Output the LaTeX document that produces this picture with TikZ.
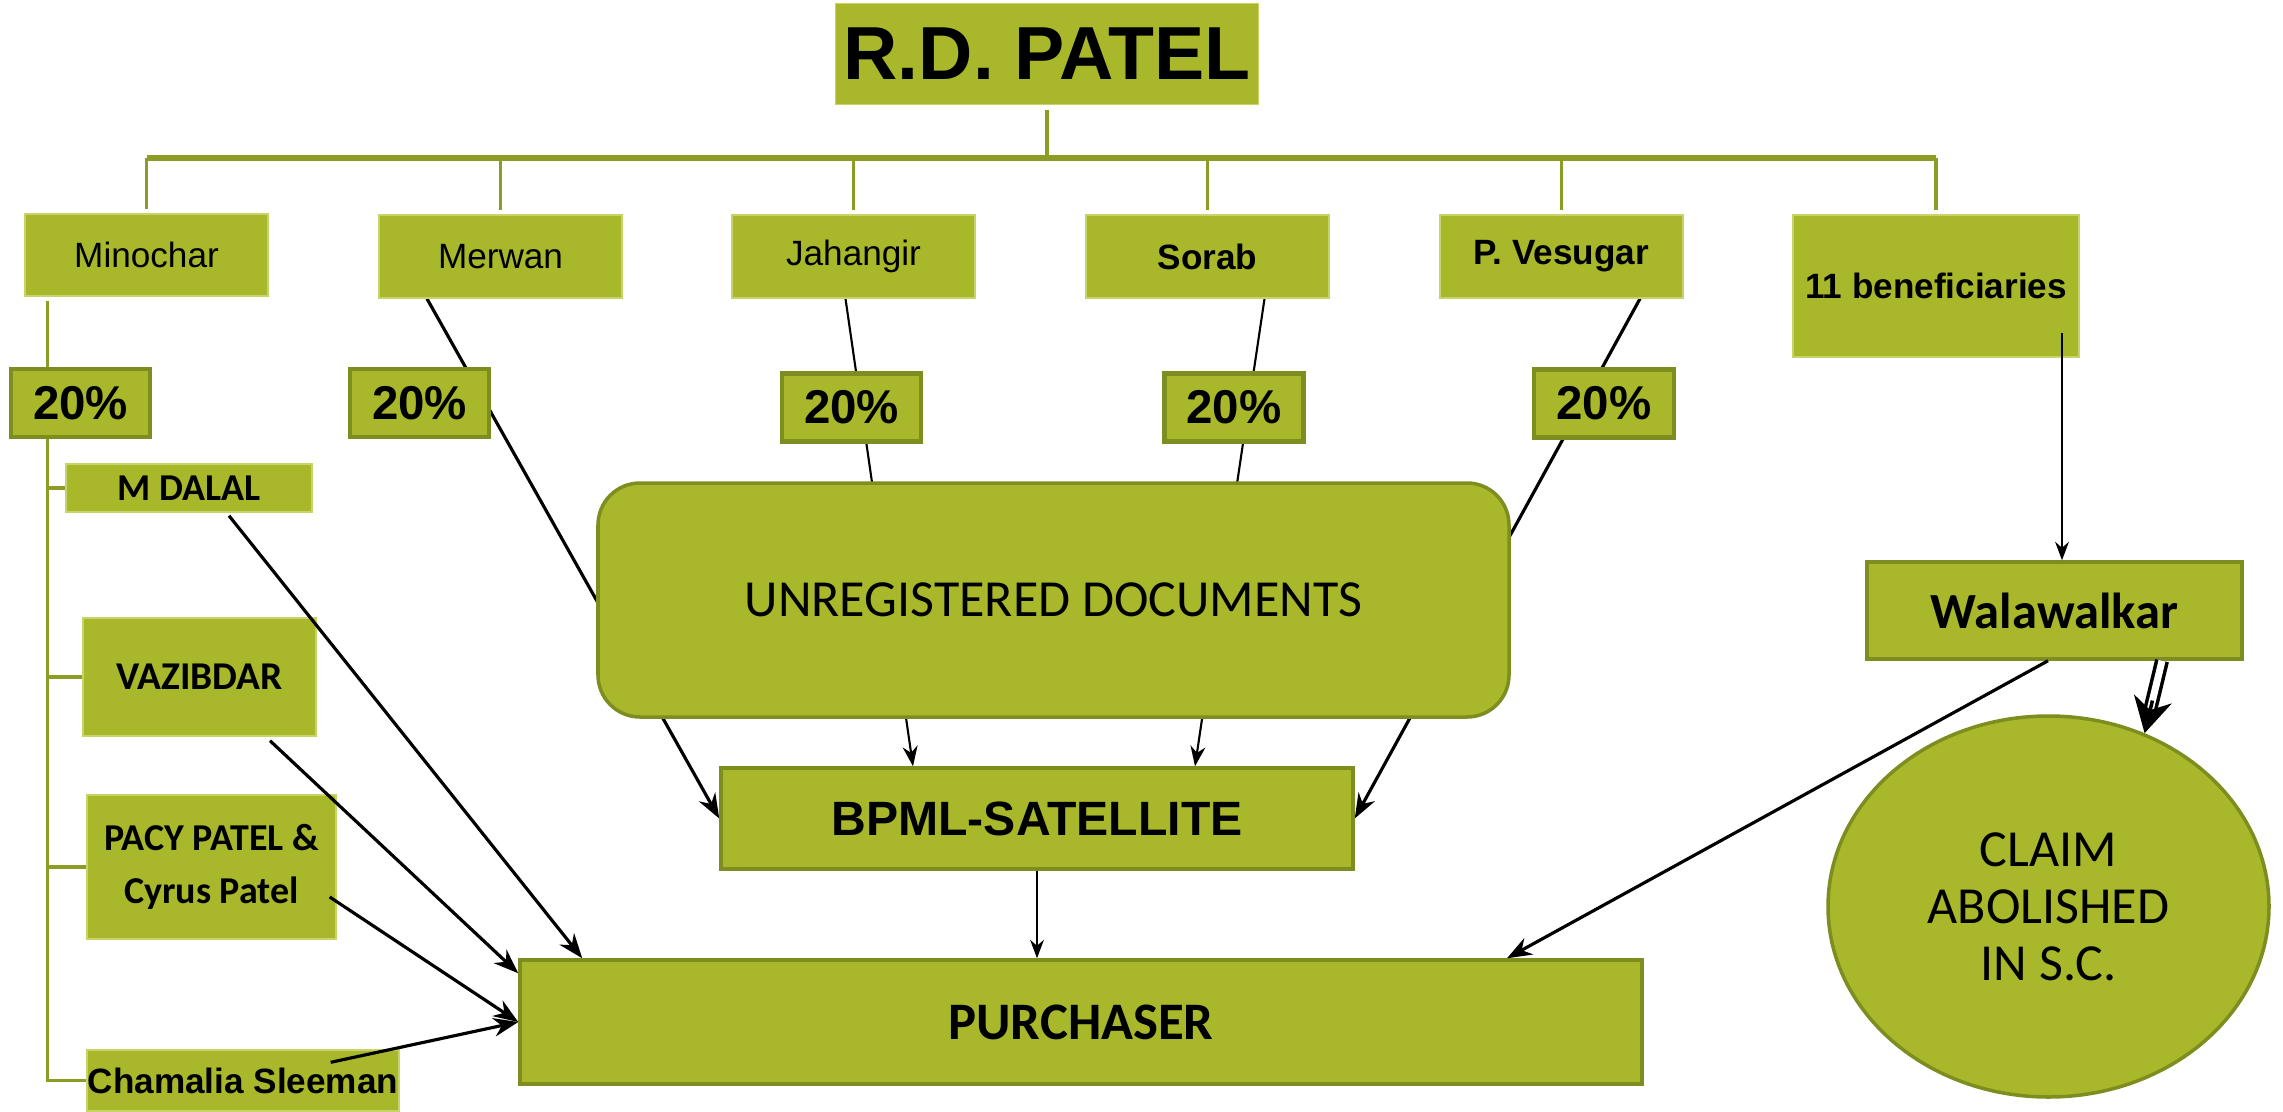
\documentclass[tikz,border=0pt]{standalone}
\usepackage{fontspec}
\setmainfont{Liberation Sans}
\newfontfamily\cali{Carlito}
\usepackage{tikz}
\usetikzlibrary{arrows.meta,positioning,shapes.geometric,backgrounds,calc}

\definecolor{leaf}{HTML}{A8B82A}
\definecolor{leafdark}{HTML}{7E8D1F}
\definecolor{leaflight}{HTML}{C8D46A}
\definecolor{stemcol}{HTML}{8C9C25}

\begin{document}
\begin{tikzpicture}[>=Stealth,
  heir/.style={fill=leaf, draw=leaflight, line width=0.4pt, inner sep=0pt},
  share/.style={fill=leaf, draw=leafdark, line width=1.3pt, inner sep=0pt,
    minimum width=1.39cm, minimum height=0.68cm, font=\bfseries\fontsize{13.5}{15}\selectfont},
  block/.style={fill=leaf, draw=leafdark, line width=1pt, inner sep=0pt},
  stem/.style={draw=stemcol, line width=1pt},
  link/.style={->, line width=0.9pt}]
  \useasboundingbox (0,0) rectangle (22.83,-11.11);

  % Root
  \node[heir, minimum width=4.23cm, minimum height=1.01cm,
    font=\bfseries\fontsize{21.4}{24}\selectfont] (patel) at (10.47,-0.54) {R.D. PATEL};

  % Heirs
  \node[heir, minimum width=2.43cm, minimum height=0.82cm, font=\fontsize{10}{12}\selectfont] (minochar) at (1.465,-2.55) {Minochar};
  \node[heir, minimum width=2.43cm, minimum height=0.83cm, font=\fontsize{10}{12}\selectfont] (merwan) at (5.005,-2.565) {Merwan};
  \node[heir, minimum width=2.43cm, minimum height=0.83cm, font=\fontsize{10}{12}\selectfont] (jahangir) at (8.535,-2.565) {Jahangir};
  \node[heir, minimum width=2.43cm, minimum height=0.83cm, font=\bfseries\fontsize{10}{12}\selectfont] (sorab) at (12.075,-2.565) {Sorab};
  \node[heir, minimum width=2.43cm, minimum height=0.83cm, font=\bfseries\fontsize{10}{12}\selectfont] (vesugar) at (15.615,-2.565) {P. Vesugar};
  \node[heir, minimum width=2.86cm, minimum height=1.42cm, font=\bfseries\fontsize{10}{12}\selectfont] (benef) at (19.36,-2.86) {11 beneficiaries};

  % Shares
  \node[share] (p1) at (0.805,-4.03) {20\%};
  \node[share] (p2) at (4.195,-4.03) {20\%};
  \node[share] (p3) at (8.515,-4.075) {20\%};
  \node[share] (p4) at (12.34,-4.075) {20\%};
  \node[share, minimum width=1.4cm] (p5) at (16.04,-4.035) {20\%};

  % Minochar's side
  \node[heir, minimum width=2.46cm, minimum height=0.48cm, font=\cali\bfseries\fontsize{10.8}{12}\selectfont] (dalal) at (1.89,-4.88) {M DALAL};
  \node[heir, minimum width=2.33cm, minimum height=1.18cm, font=\cali\bfseries\fontsize{11.2}{12}\selectfont] (vazib) at (1.995,-6.77) {VAZIBDAR};
  \node[heir, minimum width=2.49cm, minimum height=1.44cm, align=center,
    font=\cali\bfseries\fontsize{10.8}{15}\selectfont] (pacy) at (2.115,-8.67) {PACY PATEL \&\\Cyrus Patel};
  \node[heir, minimum width=3.12cm, minimum height=0.61cm, font=\bfseries\fontsize{10}{12}\selectfont] (chamalia) at (2.43,-10.805) {Chamalia Sleeman};

  % Middle blocks
  \node[block, rounded corners=0.42cm, minimum width=9.11cm, minimum height=2.34cm,
    font=\cali\fontsize{14.8}{17}\selectfont] (unreg) at (10.535,-6.0) {UNREGISTERED DOCUMENTS};
  \node[block, minimum width=6.32cm, minimum height=1.01cm, font=\bfseries\fontsize{13.7}{15}\selectfont] (bpml) at (10.37,-8.185) {BPML-SATELLITE};
  \node[block, minimum width=11.22cm, minimum height=1.24cm, font=\cali\bfseries\fontsize{15}{17}\selectfont] (purch) at (10.81,-10.22) {PURCHASER};

  % Right side
  \node[block, minimum width=3.75cm, minimum height=0.97cm, font=\cali\bfseries\fontsize{14.4}{16}\selectfont] (walaw) at (20.545,-6.105) {Walawalkar};
  \node[block, ellipse, minimum width=4.41cm, minimum height=3.81cm, align=center,
    font=\cali\fontsize{14.8}{16.2}\selectfont] (claim) at (20.485,-9.065) {CLAIM\\ABOLISHED\\IN S.C.};

  % Family tree
  \coordinate (bar) at (0,-1.58);
  \draw[stem] ([yshift=-0.5mm]patel.south) -- (patel.south |- bar);
  \draw[stem, line width=1.5pt] (bar -| minochar.north) -- (bar -| benef.north);
  \foreach \h in {minochar,merwan,jahangir,sorab,vesugar,benef}
    \draw[stem] (bar -| \h.north) -- ([yshift=0.4mm]\h.north);

  \coordinate (spine) at ([shift={(0.23,-0.04)}]minochar.south west);
  \begin{scope}[on background layer]
    \draw[stem] (spine) |- (chamalia.west);
    % Heirs to the satellite, behind the boxes
    \draw[link] ([xshift=-7.35mm]merwan.south) -- (bpml.west);
    \draw[link, line width=0.6pt] ([xshift=-0.8mm]jahangir.south) -- ([xshift=-12.4mm]bpml.north);
    \draw[link, line width=0.6pt] ([xshift=5.7mm]sorab.south) -- ([xshift=15.8mm]bpml.north);
    \draw[link] ([xshift=7.85mm]vesugar.south) -- (bpml.east);
  \end{scope}
  \foreach \h in {dalal,vazib,pacy}
    \draw[stem] (\h.west -| spine) -- (\h.west);

  % To the purchaser
  \draw[link] ([shift={(0.4,-0.03)}]dalal.south) -- ([xshift=6.4mm]purch.north west);
  \draw[link] ([shift={(0.705,-0.04)}]vazib.south) -- ([yshift=-1.5mm]purch.north west);
  \draw[link] ([shift={(-0.07,-0.3)}]pacy.east) -- (purch.west);
  \draw[link] ([shift={(-0.69,-0.13)}]chamalia.north east) -- (purch.west);
  \draw[->, line width=0.5pt] (bpml.south) -- (bpml.south |- purch.north);
  \draw[link] ([xshift=-0.65mm]walaw.south) -- ([xshift=4.26cm]purch.north);

  % Beneficiaries
  \coordinate (drop) at ([shift={(1.26,0.25)}]benef.south);
  \draw[->, line width=0.5pt] (drop) -- (drop |- walaw.north);
  \coordinate (twin) at ([xshift=10.75mm]walaw.south);
  \draw[line width=1pt, double, double distance=2pt, shorten >=7pt] (twin) -- (claim.61);
  \draw[-{Stealth[length=10pt,width=11pt]}, line width=1pt] ($(twin)!0.55!(claim.61)$) -- (claim.61);

\end{tikzpicture}
\end{document}
